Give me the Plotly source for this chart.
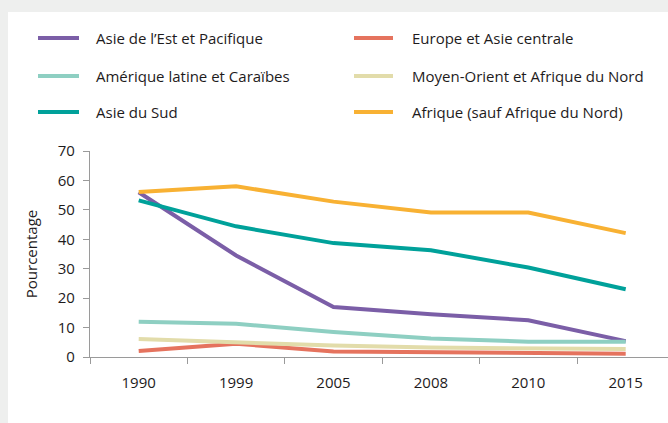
import plotly.graph_objects as go

years = ["1990", "1999", "2005", "2008", "2010", "2015"]
series_names = [
    "Asie de l’Est et Pacifique",
    "Europe et Asie centrale",
    "Amérique latine et Caraïbes",
    "Moyen-Orient et Afrique du Nord",
    "Asie du Sud",
    "Afrique (sauf Afrique du Nord)",
]
asie_est = [56.0, 34.5, 17.0, 14.5, 12.5, 5.4]
europe = [2.0, 4.5, 1.9, 1.6, 1.4, 1.1]
amerique = [12.0, 11.3, 8.5, 6.3, 5.2, 5.2]
moyen_orient = [6.1, 4.9, 3.9, 3.2, 3.0, 2.7]
asie_sud = [53.2, 44.4, 38.7, 36.3, 30.4, 23.0]
afrique = [56.1, 58.0, 52.8, 49.1, 49.1, 42.1]
series_values = [asie_est, europe, amerique, moyen_orient, asie_sud, afrique]
colors = ["#7b5ea7", "#e5735e", "#8ecfc2", "#e2dcaa", "#00a19a", "#f8b133"]
y_ticks = [0, 10, 20, 30, 40, 50, 60, 70]
y_title = "Pourcentage"

W, H = 668, 423
ML, MR, MT, MB = 90, 0, 151, 66
FONT = "'Open Sans', Lato, sans-serif"
TXT = "#1e1b1c"
FS = 15
PW = W - ML - MR
PH = H - MT - MB


def px2x(px):
    return (px - ML) / PW


def py2y(py):
    return (H - MB - py) / PH


fig = go.Figure()
for name, vals, col in zip(series_names, series_values, colors):
    fig.add_trace(go.Scatter(x=years, y=vals, name=name, mode="lines",
                             line=dict(color=col, width=4), cliponaxis=False,
                             showlegend=False, hoverinfo="skip"))

shapes = [dict(type="rect", xref="paper", yref="paper",
               x0=px2x(8), x1=px2x(W + 5), y0=py2y(12), y1=py2y(H + 5),
               fillcolor="white", line=dict(width=0), layer="below")]
annotations = []
rows_y = [38, 76, 112]
cols_x = [(38, 79, 94), (354, 393, 410)]
for i, (name, col) in enumerate(zip(series_names, colors)):
    r, c = divmod(i, 2)
    x0, x1, xt = cols_x[c]
    yy = rows_y[r]
    shapes.append(dict(type="line", xref="paper", yref="paper",
                       x0=px2x(x0), x1=px2x(x1), y0=py2y(yy), y1=py2y(yy),
                       line=dict(color=col, width=4)))
    annotations.append(dict(xref="paper", yref="paper", x=px2x(xt), y=py2y(yy),
                            text=name, showarrow=False, xanchor="left",
                            yanchor="middle",
                            font=dict(family=FONT, size=FS, color=TXT)))

fig.update_layout(
    width=W, height=H,
    margin=dict(l=ML, r=MR, t=MT, b=MB),
    paper_bgcolor="#eeefee",
    plot_bgcolor="rgba(0,0,0,0)",
    font=dict(family=FONT, size=FS, color=TXT),
    shapes=shapes,
    annotations=annotations,
    showlegend=False,
)
fig.update_xaxes(type="category", range=[-0.5, -0.5 + PW / 97.4],
                 showline=True, linecolor="#9a9a9a", linewidth=1.2,
                 ticks="outside", tickson="boundaries", ticklen=6,
                 tickcolor="#9a9a9a", showgrid=False, zeroline=False,
                 ticklabelstandoff=12,
                 tickfont=dict(size=FS, color=TXT))
fig.update_yaxes(range=[0, 70], tickvals=y_ticks,
                 showline=True, linecolor="#9a9a9a", linewidth=1.2,
                 ticks="outside", ticklen=6, tickcolor="#9a9a9a",
                 showgrid=False, zeroline=False, ticklabelstandoff=5,
                 tickfont=dict(size=FS, color=TXT),
                 title=dict(text=y_title, standoff=16,
                            font=dict(size=FS, color=TXT)))

fig.write_html("out.html", config={"displayModeBar": False},
               post_script="document.body.style.margin='0';"
                           "document.body.style.overflow='hidden';")
